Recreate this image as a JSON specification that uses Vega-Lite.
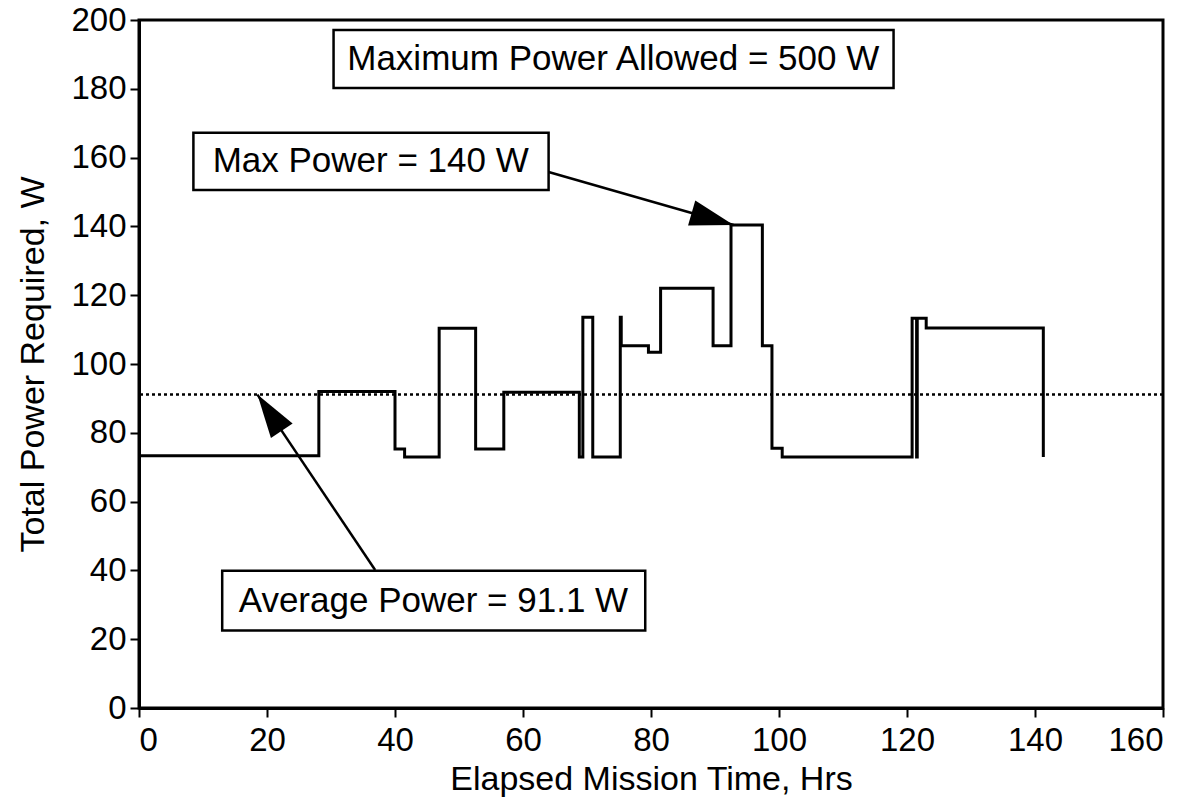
{
  "$schema": "https://vega.github.io/schema/vega-lite/v6.json",
  "width": 1024,
  "height": 688,
  "autosize": {"type": "none"},
  "padding": {"left": 139, "top": 20, "right": 40, "bottom": 89},
  "background": "white",
  "config": {
    "view": {"stroke": "black", "strokeWidth": 3},
    "font": "Liberation Sans",
    "axis": {
      "labelFont": "Liberation Sans", "labelFontSize": 33, "labelColor": "black",
      "titleFont": "Liberation Sans", "titleFontSize": 34, "titleFontWeight": "normal", "titleColor": "black",
      "domainColor": "black", "domainWidth": 3, "tickColor": "black", "tickWidth": 2, "tickSize": 9,
      "grid": false
    }
  },
  "datasets": {
    "power": [
      {"hrs": 0, "watts": 73.3},
      {"hrs": 28.1, "watts": 92.0},
      {"hrs": 40.0, "watts": 75.3},
      {"hrs": 41.5, "watts": 73.0},
      {"hrs": 46.9, "watts": 110.4},
      {"hrs": 52.6, "watts": 75.3},
      {"hrs": 57.0, "watts": 91.8},
      {"hrs": 68.8, "watts": 73.0},
      {"hrs": 69.35, "watts": 113.6},
      {"hrs": 70.9, "watts": 73.0},
      {"hrs": 75.2, "watts": 113.6},
      {"hrs": 75.35, "watts": 105.3},
      {"hrs": 79.6, "watts": 103.4},
      {"hrs": 81.5, "watts": 122.0},
      {"hrs": 89.7, "watts": 105.3},
      {"hrs": 92.5, "watts": 140.4},
      {"hrs": 97.4, "watts": 105.3},
      {"hrs": 98.9, "watts": 75.5},
      {"hrs": 100.5, "watts": 73.0},
      {"hrs": 120.8, "watts": 113.3},
      {"hrs": 121.5, "watts": 73.0},
      {"hrs": 121.6, "watts": 113.3},
      {"hrs": 123.0, "watts": 110.5},
      {"hrs": 141.3, "watts": 73.0}
    ],
    "boxes": [
      {"label": "Maximum Power Allowed = 500 W", "x1": 30.4, "x2": 117.9, "y1": 180.2, "y2": 197.1, "tx": 74.1, "ty": 188.7},
      {"label": "Max Power = 140 W", "x1": 8.5, "x2": 64.0, "y1": 150.6, "y2": 167.2, "tx": 36.2, "ty": 158.9},
      {"label": "Average Power = 91.1 W", "x1": 13.0, "x2": 79.1, "y1": 22.5, "y2": 39.9, "tx": 46.0, "ty": 31.2}
    ],
    "arrows": [
      {"name": "max", "fx": 64.0, "fy": 155.8, "tx": 92.9, "ty": 140.4},
      {"name": "avg", "fx": 36.9, "fy": 40.1, "tx": 18.5, "ty": 91.1}
    ],
    "avg": [{"watts": 91.1}]
  },
  "encoding": {
    "x": {"type": "quantitative", "scale": {"domain": [0, 160]}, "axis": {"values": [0, 20, 40, 60, 80, 100, 120, 140, 160], "title": "Elapsed Mission Time, Hrs", "labelPadding": 7, "titlePadding": 5}},
    "y": {"type": "quantitative", "scale": {"domain": [0, 200]}, "axis": {"values": [0, 20, 40, 60, 80, 100, 120, 140, 160, 180, 200], "title": "Total Power Required, W", "labelPadding": 4, "titlePadding": 20}}
  },
  "layer": [
    {
      "data": {"name": "avg"},
      "mark": {"type": "rule", "color": "black", "strokeWidth": 2.5, "strokeDash": [3, 3]},
      "encoding": {"y": {"field": "watts", "type": "quantitative"}}
    },
    {
      "data": {"name": "power"},
      "mark": {"type": "line", "interpolate": "step-after", "color": "black", "strokeWidth": 3},
      "encoding": {
        "x": {"field": "hrs", "type": "quantitative"},
        "y": {"field": "watts", "type": "quantitative"}
      }
    },
    {
      "data": {"name": "arrows"},
      "mark": {"type": "rule", "color": "black", "strokeWidth": 2.5},
      "encoding": {
        "x": {"field": "fx", "type": "quantitative"},
        "y": {"field": "fy", "type": "quantitative"},
        "x2": {"field": "tx"},
        "y2": {"field": "ty"}
      }
    },
    {
      "data": {"name": "arrows"},
      "transform": [{"filter": "datum.name === 'max'"}],
      "mark": {"type": "point", "shape": "M0,0L-2,-0.6L-2,0.6Z", "filled": true, "color": "black", "opacity": 1, "size": 1900, "angle": 16},
      "encoding": {
        "x": {"field": "tx", "type": "quantitative"},
        "y": {"field": "ty", "type": "quantitative"}
      }
    },
    {
      "data": {"name": "arrows"},
      "transform": [{"filter": "datum.name === 'avg'"}],
      "mark": {"type": "point", "shape": "M0,0L-2,-0.6L-2,0.6Z", "filled": true, "color": "black", "opacity": 1, "size": 1900, "angle": 236},
      "encoding": {
        "x": {"field": "tx", "type": "quantitative"},
        "y": {"field": "ty", "type": "quantitative"}
      }
    },
    {
      "data": {"name": "boxes"},
      "mark": {"type": "rect", "fill": "white", "stroke": "black", "strokeWidth": 2.5},
      "encoding": {
        "x": {"field": "x1", "type": "quantitative"},
        "x2": {"field": "x2"},
        "y": {"field": "y1", "type": "quantitative"},
        "y2": {"field": "y2"}
      }
    },
    {
      "data": {"name": "boxes"},
      "mark": {"type": "text", "font": "Liberation Sans", "fontSize": 35, "color": "black", "align": "center", "baseline": "middle"},
      "encoding": {
        "x": {"field": "tx", "type": "quantitative"},
        "y": {"field": "ty", "type": "quantitative"},
        "text": {"field": "label"}
      }
    }
  ]
}
